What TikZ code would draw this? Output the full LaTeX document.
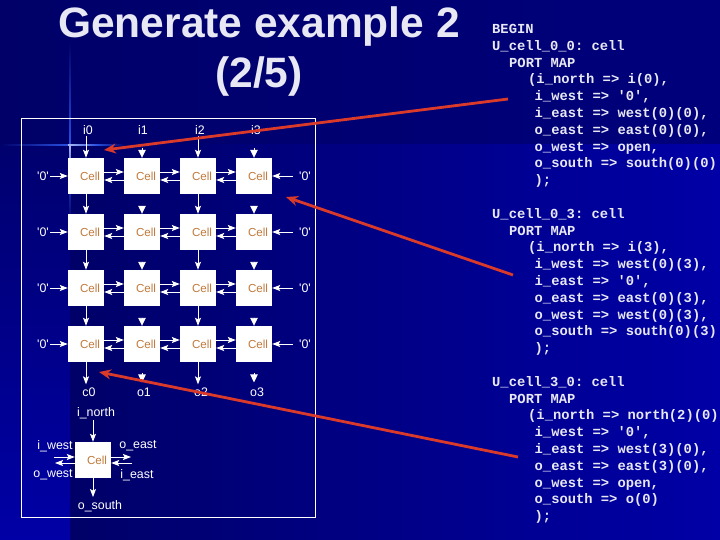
\documentclass[tikz,border=0pt]{standalone}
\usepackage{fontspec}
\usepackage{xcolor}
\setmainfont{Liberation Sans}
\setmonofont{Liberation Mono}
\usetikzlibrary{arrows.meta}
\definecolor{navy}{HTML}{000068}
\definecolor{topblue}{HTML}{00007C}
\definecolor{slideblue}{HTML}{0000A6}
\definecolor{glow}{HTML}{2A50E0}
\definecolor{cellorange}{HTML}{C07A3C}
\definecolor{pointred}{HTML}{D93A2A}
\definecolor{titlewhite}{HTML}{E8E8F4}
\tikzset{
  cellbox/.style={fill=white, minimum size=36pt, inner sep=0pt, text=cellorange, font=\fontsize{11.6}{13}\selectfont, execute at begin node=\hspace{8pt}},
  portlabel/.style={text=white, inner sep=1pt, font=\fontsize{12.4}{14}\selectfont},
  wire/.style={-{Stealth[length=8pt,width=6pt,inset=1.5pt]}, white, line width=0.9pt},
  stub/.style={-{Stealth[length=8pt,width=7.5pt,inset=0pt]}, white, line width=0.9pt, shorten <=#1},
  pointer/.style={-{Stealth[length=12pt,width=10pt]}, pointred, line width=2.8pt},
  codeblock/.style={anchor=north west, align=left, inner sep=0pt, text=titlewhite, font=\ttfamily\bfseries\fontsize{13.8}{16.8}\selectfont}
}
\begin{document}
\begin{tikzpicture}[x=1pt, y=-1pt]
	\useasboundingbox (0,0) rectangle (720,540);
	% slide background
	\shade[left color=navy, right color=topblue] (0,0) rectangle (720,145);
	\shade[shading angle=100, left color=navy, right color=slideblue] (70,145) rectangle (720,540);
	\shade[top color=navy!90!slideblue, bottom color=slideblue] (0,145) rectangle (70,540);
	\shade[top color=navy, bottom color=glow] (69.2,40) rectangle (70.8,145);
	\shade[top color=white!60!glow, bottom color=navy, middle color=glow!60!navy] (69.2,145) rectangle (70.8,225);
	\shade[left color=navy, right color=glow] (0,144.2) rectangle (68,145.8);
	\shade[left color=white!60!glow, right color=navy, middle color=glow] (68,144.2) rectangle (125,145.8);

	\node (title) at (259,51.5) [align=center, inner sep=0pt, text=titlewhite, font=\bfseries\fontsize{42.5}{50}\selectfont] {Generate example 2\\(2/5)};

	\draw[white, line width=0.8pt] (21.5,118.5) rectangle (315.5,517);

	\node (i0) at (88,130) [portlabel] {i0};
	\node (i1) at (143,130) [portlabel] {i1};
	\node (i2) at (200,130) [portlabel] {i2};
	\node (i3) at (256,130) [portlabel] {i3};

	\node (cell00) at (86,176) [cellbox] {Cell};
	\node (cell01) at (142,176) [cellbox] {Cell};
	\node (cell02) at (198,176) [cellbox] {Cell};
	\node (cell03) at (254,176) [cellbox] {Cell};
	\node (cell10) at (86,232) [cellbox] {Cell};
	\node (cell11) at (142,232) [cellbox] {Cell};
	\node (cell12) at (198,232) [cellbox] {Cell};
	\node (cell13) at (254,232) [cellbox] {Cell};
	\node (cell20) at (86,288) [cellbox] {Cell};
	\node (cell21) at (142,288) [cellbox] {Cell};
	\node (cell22) at (198,288) [cellbox] {Cell};
	\node (cell23) at (254,288) [cellbox] {Cell};
	\node (cell30) at (86,344) [cellbox] {Cell};
	\node (cell31) at (142,344) [cellbox] {Cell};
	\node (cell32) at (198,344) [cellbox] {Cell};
	\node (cell33) at (254,344) [cellbox] {Cell};

	\node (west0) at (43,176) [portlabel] {\textquotesingle0\textquotesingle};
	\node (west1) at (43,232) [portlabel] {\textquotesingle0\textquotesingle};
	\node (west2) at (43,288) [portlabel] {\textquotesingle0\textquotesingle};
	\node (west3) at (43,344) [portlabel] {\textquotesingle0\textquotesingle};
	\node (east0) at (305,176) [portlabel] {\textquotesingle0\textquotesingle};
	\node (east1) at (305,232) [portlabel] {\textquotesingle0\textquotesingle};
	\node (east2) at (305,288) [portlabel] {\textquotesingle0\textquotesingle};
	\node (east3) at (305,344) [portlabel] {\textquotesingle0\textquotesingle};

	\node (o0) at (89,392) [portlabel] {c0};
	\node (o1) at (144,392) [portlabel] {o1};
	\node (o2) at (201,392) [portlabel] {o2};
	\node (o3) at (257,392) [portlabel] {o3};

	\draw[wire] (i0.south -| cell00) -- (cell00.north);
	\draw[stub=12pt] (i1.south -| cell01) -- (cell01.north);
	\draw[wire] (i2.south -| cell02) -- (cell02.north);
	\draw[stub=12pt] (i3.south -| cell03) -- (cell03.north);

	\draw[wire] (cell00.south) -- (cell10.north);
	\draw[stub=12pt] (cell01.south) -- (cell11.north);
	\draw[wire] (cell02.south) -- (cell12.north);
	\draw[stub=12pt] (cell03.south) -- (cell13.north);
	\draw[wire] (cell10.south) -- (cell20.north);
	\draw[stub=12pt] (cell11.south) -- (cell21.north);
	\draw[wire] (cell12.south) -- (cell22.north);
	\draw[stub=12pt] (cell13.south) -- (cell23.north);
	\draw[wire] (cell20.south) -- (cell30.north);
	\draw[stub=12pt] (cell21.south) -- (cell31.north);
	\draw[wire] (cell22.south) -- (cell32.north);
	\draw[stub=12pt] (cell23.south) -- (cell33.north);
	\draw[wire, shorten >=2pt] (cell30.south) -- (o0.north -| cell30);
	\draw[stub=11pt, shorten >=4pt] (cell31.south) -- (o1.north -| cell31);
	\draw[wire, shorten >=2pt] (cell32.south) -- (o2.north -| cell32);
	\draw[stub=11pt, shorten >=4pt] (cell33.south) -- (o3.north -| cell33);

	\draw[wire] ([yshift=4pt]cell00.east) -- ([yshift=4pt]cell01.west);
	\draw[wire] ([yshift=4pt]cell01.east) -- ([yshift=4pt]cell02.west);
	\draw[wire] ([yshift=4pt]cell02.east) -- ([yshift=4pt]cell03.west);
	\draw[wire] ([yshift=-4pt]cell01.west) -- ([yshift=-4pt]cell00.east);
	\draw[wire] ([yshift=-4pt]cell02.west) -- ([yshift=-4pt]cell01.east);
	\draw[wire] ([yshift=-4pt]cell03.west) -- ([yshift=-4pt]cell02.east);
	\draw[wire] ([yshift=4pt]cell10.east) -- ([yshift=4pt]cell11.west);
	\draw[wire] ([yshift=4pt]cell11.east) -- ([yshift=4pt]cell12.west);
	\draw[wire] ([yshift=4pt]cell12.east) -- ([yshift=4pt]cell13.west);
	\draw[wire] ([yshift=-4pt]cell11.west) -- ([yshift=-4pt]cell10.east);
	\draw[wire] ([yshift=-4pt]cell12.west) -- ([yshift=-4pt]cell11.east);
	\draw[wire] ([yshift=-4pt]cell13.west) -- ([yshift=-4pt]cell12.east);
	\draw[wire] ([yshift=4pt]cell20.east) -- ([yshift=4pt]cell21.west);
	\draw[wire] ([yshift=4pt]cell21.east) -- ([yshift=4pt]cell22.west);
	\draw[wire] ([yshift=4pt]cell22.east) -- ([yshift=4pt]cell23.west);
	\draw[wire] ([yshift=-4pt]cell21.west) -- ([yshift=-4pt]cell20.east);
	\draw[wire] ([yshift=-4pt]cell22.west) -- ([yshift=-4pt]cell21.east);
	\draw[wire] ([yshift=-4pt]cell23.west) -- ([yshift=-4pt]cell22.east);
	\draw[wire] ([yshift=4pt]cell30.east) -- ([yshift=4pt]cell31.west);
	\draw[wire] ([yshift=4pt]cell31.east) -- ([yshift=4pt]cell32.west);
	\draw[wire] ([yshift=4pt]cell32.east) -- ([yshift=4pt]cell33.west);
	\draw[wire] ([yshift=-4pt]cell31.west) -- ([yshift=-4pt]cell30.east);
	\draw[wire] ([yshift=-4pt]cell32.west) -- ([yshift=-4pt]cell31.east);
	\draw[wire] ([yshift=-4pt]cell33.west) -- ([yshift=-4pt]cell32.east);

	\draw[wire] (west0.east) -- (cell00.west);
	\draw[wire] (west1.east) -- (cell10.west);
	\draw[wire] (west2.east) -- (cell20.west);
	\draw[wire] (west3.east) -- (cell30.west);
	\draw[wire, shorten <=5pt] (east0.west) -- (cell03.east);
	\draw[wire, shorten <=5pt] (east1.west) -- (cell13.east);
	\draw[wire, shorten <=5pt] (east2.west) -- (cell23.east);
	\draw[wire, shorten <=5pt] (east3.west) -- (cell33.east);

	% port legend
	\node (legend) at (93,460) [cellbox] {Cell};
	\node (inorth) at (96,413) [portlabel] {i\_north};
	\node (iwest) at (55,446) [portlabel] {i\_west};
	\node (oeast) at (138,446) [portlabel] {o\_east};
	\node (owest) at (53,475) [portlabel] {o\_west};
	\node (ieast) at (137,475) [portlabel] {i\_east};
	\node (osouth) at (100,506) [portlabel] {o\_south};
	\coordinate (iwestend) at (54,457);
	\coordinate (owestend) at (55,463);
	\coordinate (oeastend) at (131,457);
	\coordinate (ieastend) at (132,463);

	\draw[wire] (inorth.south -| legend) -- (legend.north);
	\draw[wire, shorten >=2pt] (legend.south) -- (osouth.north -| legend);
	\draw[wire] (iwestend) -- (iwestend -| legend.west);
	\draw[wire] (owestend -| legend.west) -- (owestend);
	\draw[wire] (oeastend -| legend.east) -- (oeastend);
	\draw[wire] (ieastend) -- (ieastend -| legend.east);

	% code on the right
	\node (code0) at (492,24) [codeblock] {BEGIN\\U\_cell\_0\_0: cell\\\hspace*{17pt}PORT MAP\\\hspace*{36pt}(i\_north => i(0),\\\hspace*{42.5pt}i\_west => \textquotesingle0\textquotesingle,\\\hspace*{42.5pt}i\_east => west(0)(0),\\\hspace*{42.5pt}o\_east => east(0)(0),\\\hspace*{42.5pt}o\_west => open,\\\hspace*{42.5pt}o\_south => south(0)(0)\\\hspace*{42.5pt});};
	\node (code1) at (492,208) [codeblock] {U\_cell\_0\_3: cell\\\hspace*{17pt}PORT MAP\\\hspace*{36pt}(i\_north => i(3),\\\hspace*{42.5pt}i\_west => west(0)(3),\\\hspace*{42.5pt}i\_east => \textquotesingle0\textquotesingle,\\\hspace*{42.5pt}o\_east => east(0)(3),\\\hspace*{42.5pt}o\_west => west(0)(3),\\\hspace*{42.5pt}o\_south => south(0)(3)\\\hspace*{42.5pt});};
	\node (code2) at (492,376) [codeblock] {U\_cell\_3\_0: cell\\\hspace*{17pt}PORT MAP\\\hspace*{36pt}(i\_north => north(2)(0)\\\hspace*{42.5pt}i\_west => \textquotesingle0\textquotesingle,\\\hspace*{42.5pt}i\_east => west(3)(0),\\\hspace*{42.5pt}o\_east => east(3)(0),\\\hspace*{42.5pt}o\_west => open,\\\hspace*{42.5pt}o\_south => o(0)\\\hspace*{42.5pt});};

	% red pointers
	\coordinate (tail0) at (508,99);
	\coordinate (tip0) at (104,150);
	\coordinate (tail1) at (513,275);
	\coordinate (tip1) at (286,197);
	\coordinate (tail2) at (518,457);
	\coordinate (tip2) at (99,372);
	\draw[pointer] (tail0) -- (tip0);
	\draw[pointer] (tail1) -- (tip1);
	\draw[pointer] (tail2) -- (tip2);
\end{tikzpicture}
\end{document}
